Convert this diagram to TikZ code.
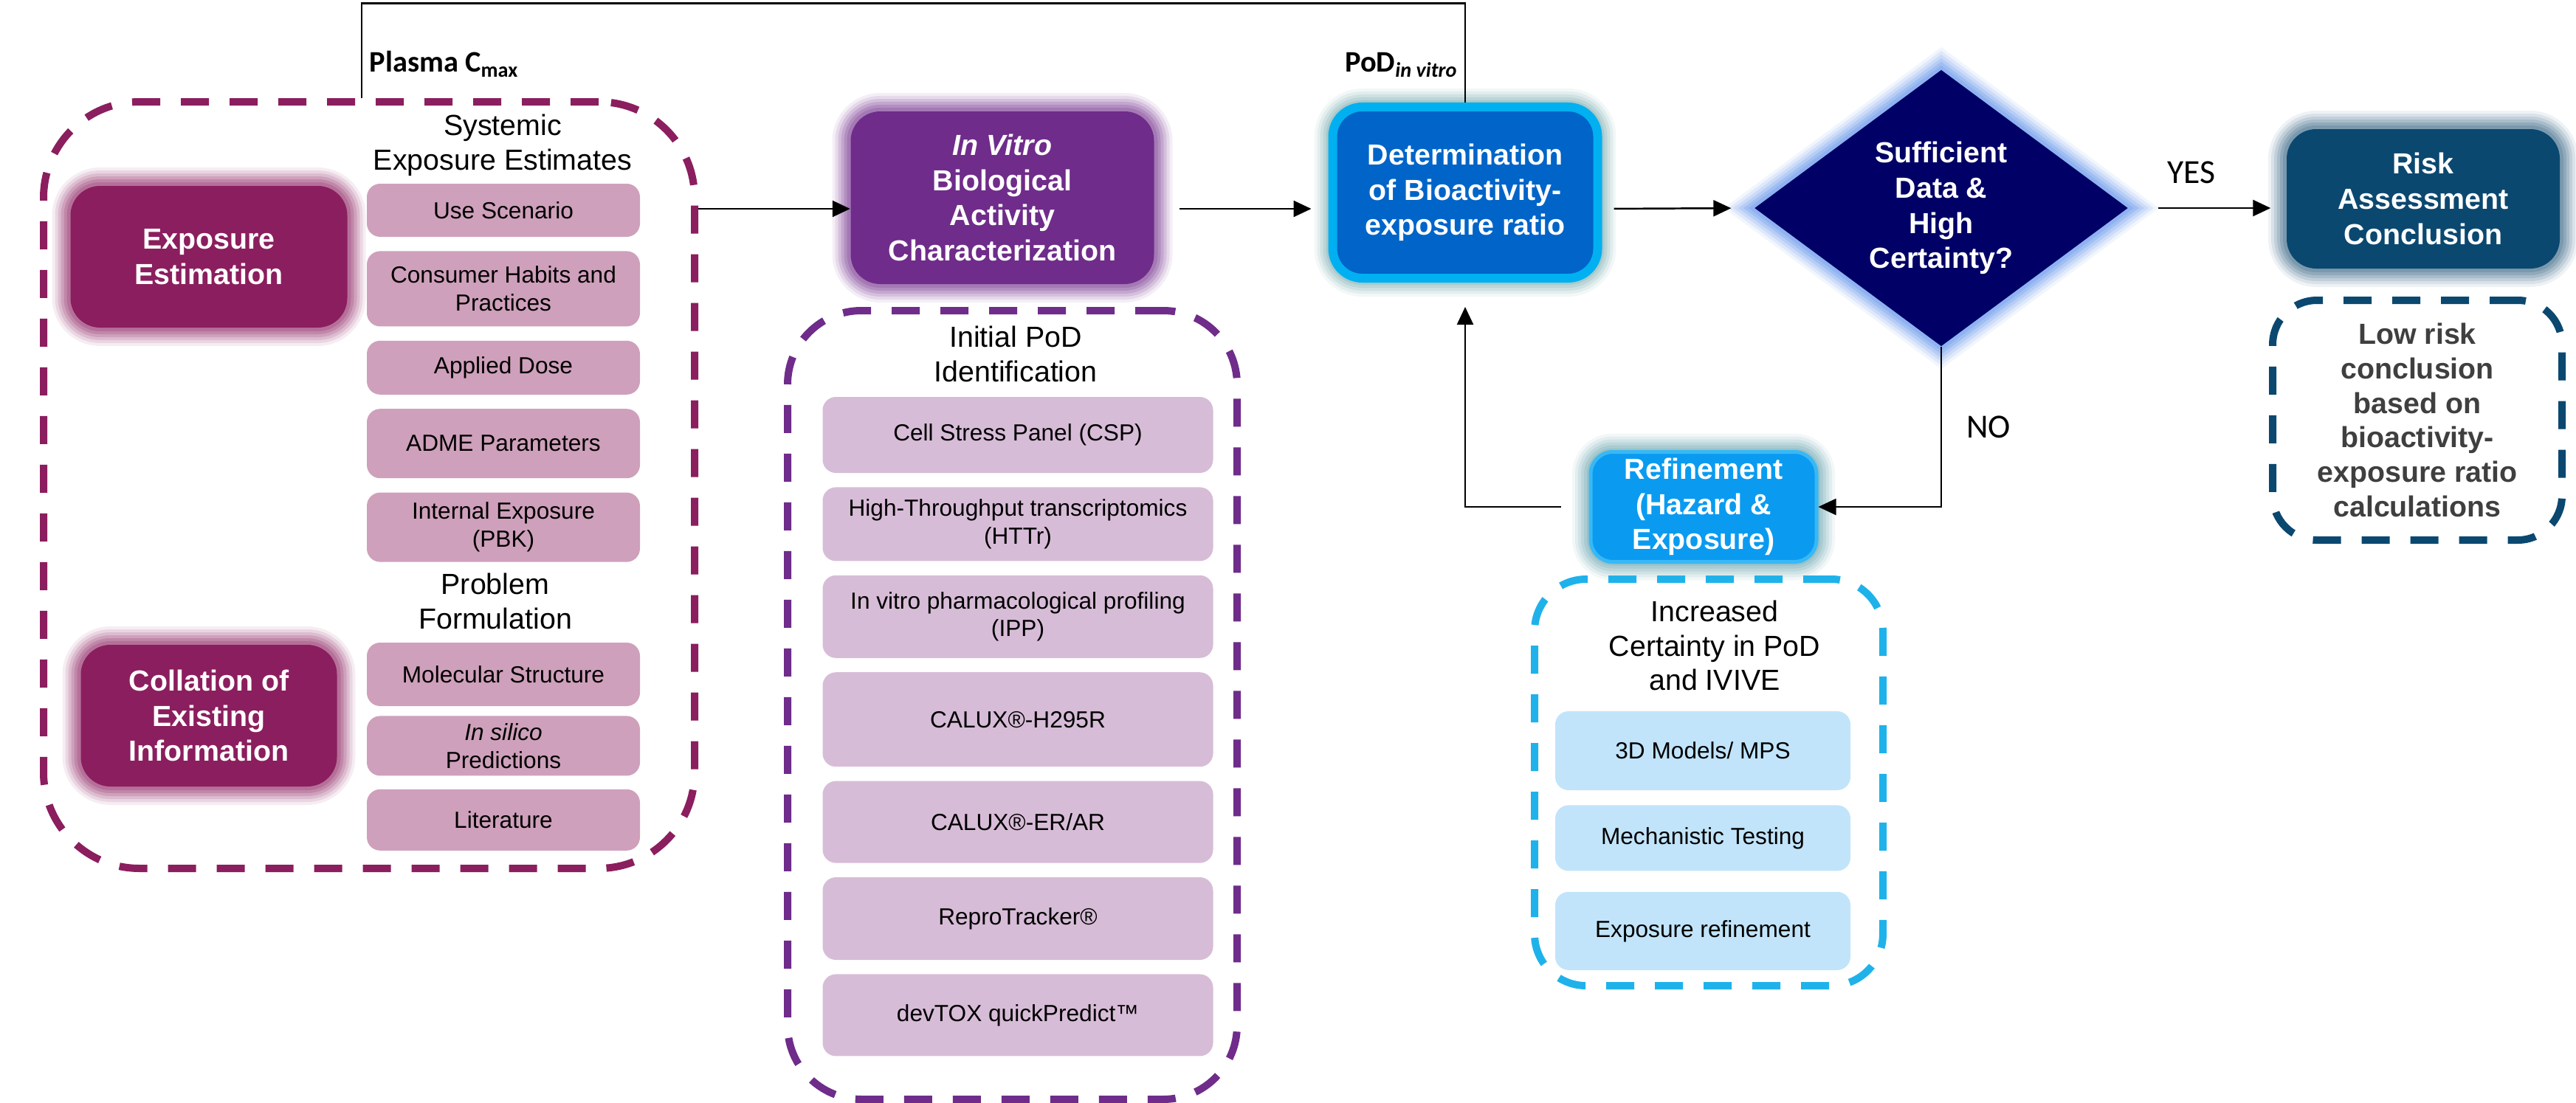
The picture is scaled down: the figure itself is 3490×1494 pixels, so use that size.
\documentclass[tikz,border=0pt]{standalone}
\usepackage{fontspec}
\setmainfont{Liberation Sans}
\newfontfamily\calibri{Carlito}
\usetikzlibrary{arrows.meta, positioning, shapes.geometric}
\definecolor{ExpMagenta}{HTML}{8B1E5E}
\definecolor{ExpPink}{HTML}{CFA0BB}
\definecolor{VitroPurple}{HTML}{6F2C8A}
\definecolor{VitroLilac}{HTML}{D7BCD7}
\definecolor{DetBlue}{HTML}{0064C8}
\definecolor{DetRim}{HTML}{00B0F0}
\definecolor{DetGlow}{HTML}{5E9A9E}
\definecolor{DecNavy}{HTML}{000066}
\definecolor{DecGlow}{HTML}{4F86E8}
\definecolor{RiskTeal}{HTML}{0B4870}
\definecolor{RiskGlow}{HTML}{2F5F80}
\definecolor{RefBlue}{HTML}{0A9BF0}
\definecolor{RefRim}{HTML}{38B8F5}
\definecolor{RefGlow}{HTML}{5E9EA8}
\definecolor{RefIce}{HTML}{C1E4FA}
\definecolor{RefCyan}{HTML}{1FB2EA}
\definecolor{LowGray}{HTML}{3F3F3F}

\begin{document}
\begin{tikzpicture}[
  x=0.1mm, y=-0.1mm,
  font=\fontsize{9}{10.8}\selectfont,
  node distance=1.8mm,
  >={Triangle[length=2.4mm, width=2.2mm]},
  item/.style={rectangle, rounded corners=1.8mm, align=center, inner sep=1pt},
  expitem/.style={item, fill=ExpPink, minimum width=37mm},
  vitroitem/.style={item, fill=VitroLilac, minimum width=52.9mm},
  refitem/.style={item, fill=RefIce, minimum width=40mm},
  head/.style={align=center, font=\fontsize{11.2}{13.3}\selectfont},
  mainbox/.style={rectangle, rounded corners=4mm, align=center, text=white, inner sep=2pt,
                  font=\bfseries\fontsize{11.2}{13.6}\selectfont},
  glow/.style={preaction={draw=#1, line width=5mm, draw opacity=0.08},
               preaction={draw=#1, line width=4.2mm, draw opacity=0.11},
               preaction={draw=#1, line width=3.4mm, draw opacity=0.14},
               preaction={draw=#1, line width=2.6mm, draw opacity=0.17},
               preaction={draw=#1, line width=1.8mm, draw opacity=0.2},
               preaction={draw=#1, line width=1mm, draw opacity=0.22}},
  grp/.style={rectangle, draw=#1, line width=1mm, dash pattern=on 3.8mm off 2.8mm,
              rounded corners=12mm},
  tag/.style={font=\calibri\bfseries\fontsize{11.5}{13}\selectfont, inner sep=0pt},
  answer/.style={font=\calibri\fontsize{13}{15}\selectfont, inner sep=0pt},
  link/.style={draw=black, line width=0.7pt},
  arr/.style={link, ->},
]
\useasboundingbox (0,0) rectangle (3490,1494);

% --- exposure side ---
\node[grp=ExpMagenta, minimum width=88.2mm, minimum height=103.9mm, rounded corners=13mm]
  (grpexp) at (500,657.5) {};
\node[head] (sysexp) at (681,197) {Systemic\\Exposure Estimates};
\node[expitem, minimum height=7.2mm] (usescen) at (682,285) {Use Scenario};
\node[expitem, minimum height=10.2mm, below=of usescen] (habits) {Consumer Habits and\\Practices};
\node[expitem, minimum height=7.3mm, below=of habits] (dose) {Applied Dose};
\node[expitem, minimum height=9.4mm, below=of dose] (adme) {ADME Parameters};
\node[expitem, minimum height=9.4mm, below=of adme] (pbk) {Internal Exposure\\(PBK)};
\node[head] (probform) at (671,815) {Problem\\Formulation};
\node[expitem, minimum height=8.6mm] (molstruct) at (682,914) {Molecular Structure};
\node[expitem, minimum height=8.1mm, below=1.2mm of molstruct] (insilico) {\textit{In silico}\\Predictions};
\node[expitem, minimum height=8.3mm, below=1.7mm of insilico] (lit) {Literature};

\node[mainbox, fill=ExpMagenta, glow=ExpMagenta, minimum width=37.5mm, minimum height=19.2mm]
  (expest) at (283,348) {Exposure\\Estimation};
\node[mainbox, fill=ExpMagenta, glow=ExpMagenta, minimum width=34.7mm, minimum height=19.2mm]
  (collate) at (283,970) {Collation of\\Existing\\Information};

% --- in vitro side ---
\node[mainbox, fill=VitroPurple, glow=VitroPurple, minimum width=41.1mm, minimum height=23.4mm]
  (invitro) at (1358,268) {\textit{In Vitro}\\Biological\\Activity\\Characterization};
\node[grp=VitroPurple, minimum width=60.9mm, minimum height=106.9mm, rounded corners=10mm]
  (grpvitro) at (1371.5,955.5) {};
\node[head] (initpod) at (1376,480) {Initial PoD\\Identification};
\node[vitroitem, minimum height=10.3mm] (csp) at (1379,589.5) {Cell Stress Panel (CSP)};
\node[vitroitem, minimum height=10mm, below=of csp] (httr) {High-Throughput transcriptomics\\(HTTr)};
\node[vitroitem, minimum height=11.2mm, below=of httr] (ipp) {In vitro pharmacological profiling\\(IPP)};
\node[vitroitem, minimum height=12.8mm, below=of ipp] (h295r) {CALUX®-H295R};
\node[vitroitem, minimum height=11.1mm, below=of h295r] (erar) {CALUX®-ER/AR};
\node[vitroitem, minimum height=11.2mm, below=of erar] (repro) {ReproTracker®};
\node[vitroitem, minimum height=11.1mm, below=of repro] (devtox) {devTOX quickPredict™};

% --- ratio, decision, conclusion ---
\node[mainbox, fill=DetBlue, draw=DetRim, line width=1.2mm, glow=DetGlow,
      minimum width=35.9mm, minimum height=23.2mm]
  (determ) at (1985,261) {Determination\\of Bioactivity-\\exposure ratio};
\node[diamond, fill=DecNavy, glow=DecGlow, text=white, align=center, inner sep=0pt,
      minimum width=50.6mm, minimum height=36mm, font=\bfseries\fontsize{11.2}{13.6}\selectfont]
  (decide) at (2630,282) {Sufficient\\Data \&\\High\\Certainty?};
\node[mainbox, fill=RiskTeal, glow=RiskGlow, minimum width=37mm, minimum height=18.9mm]
  (risk) at (3283,269.5) {Risk\\Assessment\\Conclusion};
\node[grp=RiskTeal, minimum width=39.2mm, minimum height=32.5mm, rounded corners=6mm,
      text=LowGray, align=center, font=\bfseries\fontsize{11.2}{13.3}\selectfont]
  (lowrisk) at (3275,569.5) {Low risk\\conclusion\\based on\\bioactivity-\\exposure ratio\\calculations};

% --- refinement ---
\node[mainbox, fill=RefBlue, draw=RefRim, line width=0.5mm, glow=RefGlow, rounded corners=3mm,
      minimum width=30.6mm, minimum height=14.9mm]
  (refine) at (2308,687) {Refinement\\(Hazard \&\\Exposure)};
\node[grp=RefCyan, minimum width=47.2mm, minimum height=55.1mm, rounded corners=7mm]
  (grpref) at (2315,1060.5) {};
\node[head] (certainty) at (2323,875) {Increased\\Certainty in PoD\\and IVIVE};
\node[refitem, minimum height=10.7mm] (models) at (2307,1017.5) {3D Models/ MPS};
\node[refitem, minimum height=8.9mm, below=1.9mm of models] (mech) {Mechanistic Testing};
\node[refitem, minimum height=10.6mm, below=2.7mm of mech] (exporef) {Exposure refinement};

% --- connectors ---
\coordinate (ceiling) at (1000,4.5);
\coordinate (mainrow) at (0,283);
\draw[link] ([xshift=-1mm]grpexp.north) |- (ceiling) -| (determ.north);
\node[tag, anchor=west] (cmax) at (500,87) {Plasma C\textsubscript{max}};
\node[tag, anchor=east] (podvitro) at (1976,88) {PoD\textsubscript{\itshape in vitro}};

\draw[arr] (grpexp.east |- mainrow) -- (invitro.west |- mainrow);
\draw[arr, shorten <=3.4mm, shorten >=2.3mm] (invitro.east |- mainrow) -- (determ.west |- mainrow);
\draw[arr, shorten <=1.6mm, shorten >=3.1mm] (determ.east |- mainrow) -- (decide.west);
\draw[arr, shorten <=4mm, shorten >=2.1mm] (decide.east) -- (risk.west |- decide.east);
\node[answer] (yes) at (2969,234) {YES};
\draw[arr] (decide.south) |- (refine.east);
\node[answer] (no) at (2694,579) {NO};
\draw[arr, shorten <=3.8mm, shorten >=3.3mm] (refine.west) -| (determ.south);

\end{tikzpicture}
\end{document}
